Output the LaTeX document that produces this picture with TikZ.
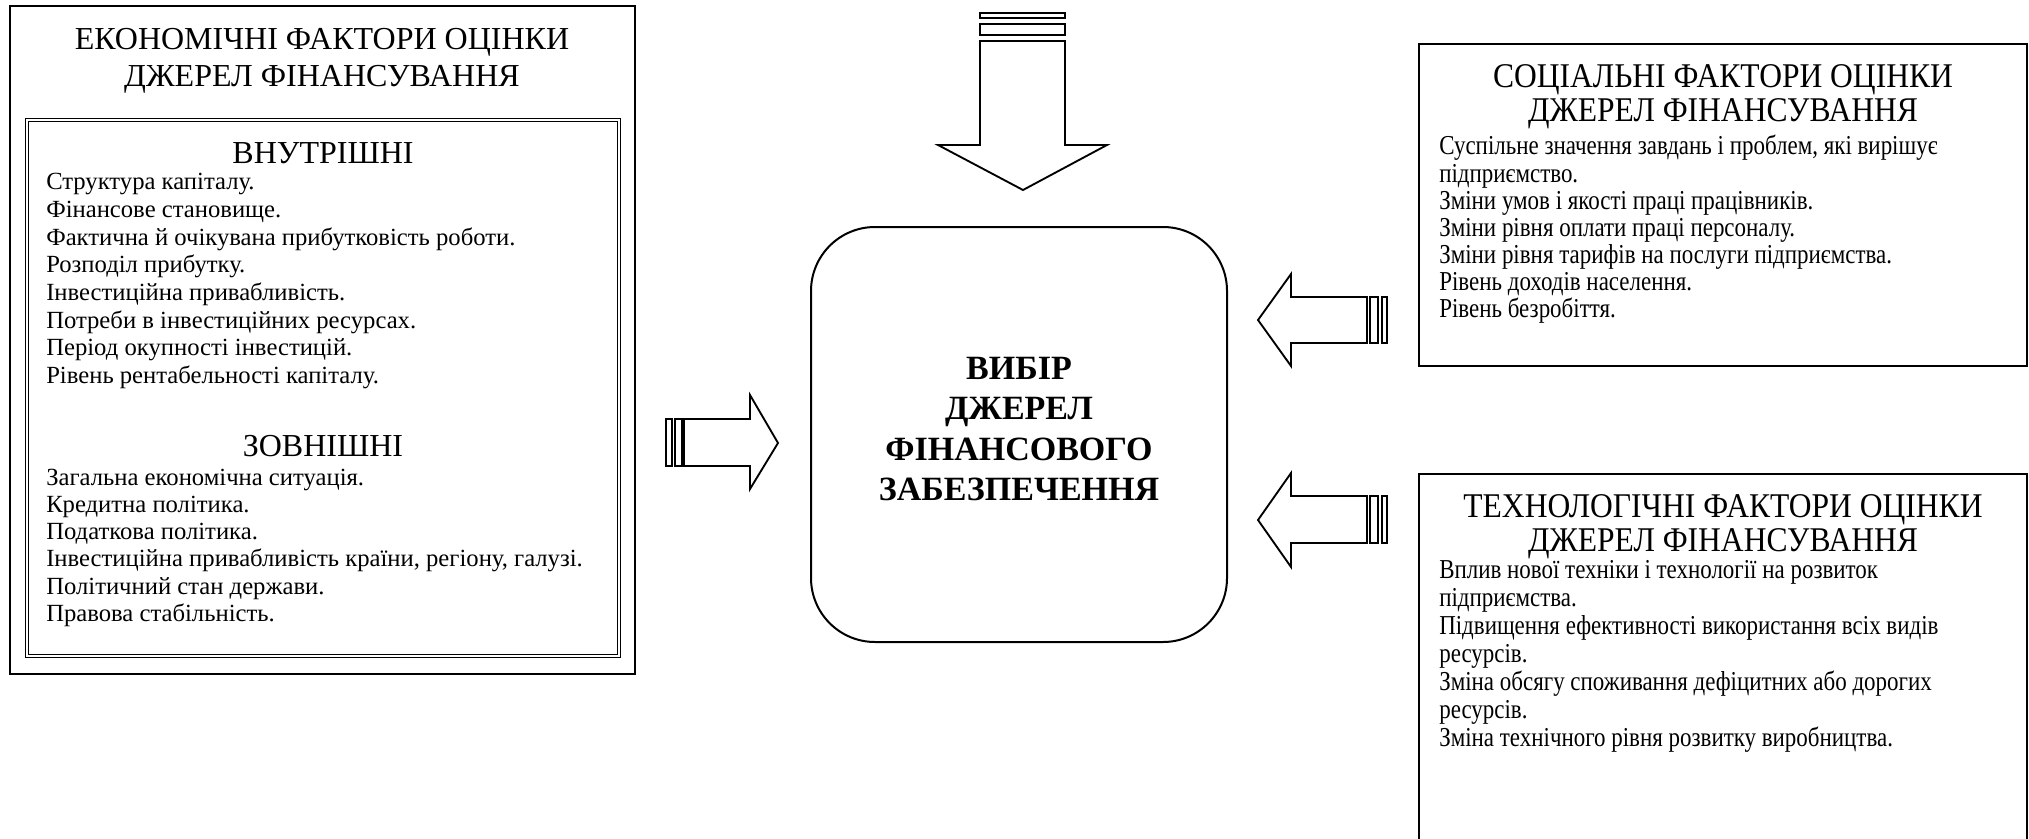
\documentclass[tikz,border=0pt]{standalone}
\usepackage{fontspec}
\setmainfont{Liberation Serif}
\newfontfamily\narrowhead{Liberation Serif}[FakeStretch=0.91]
\newfontfamily\narrowbody{Liberation Serif}[FakeStretch=0.84]
\usetikzlibrary{fit}

\tikzset{
  frame/.style={draw, line width=1.5pt, inner sep=0pt},
  innerframe/.style={draw, double, line width=0.8pt, double distance=0.9pt, inner sep=0pt},
  hub/.style={draw, line width=1.5pt, inner sep=0pt, rounded corners=48pt},
  blockarrow/.style={draw, line width=1.4pt, fill=white, line join=miter},
  stripe/.style={draw, line width=1.2pt, fill=white},
  lhead/.style={anchor=base, inner sep=0pt, font=\fontsize{24}{28}\selectfont},
  lbody/.style={anchor=base west, inner sep=0pt, font=\fontsize{18.5}{21}\selectfont},
  rhead/.style={anchor=base, inner sep=0pt, font=\narrowhead\fontsize{26}{30}\selectfont},
  rbody/.style={anchor=base west, inner sep=0pt, font=\narrowbody\fontsize{20.5}{22}\selectfont},
  hubtext/.style={anchor=base, inner sep=0pt, font=\bfseries\fontsize{25.5}{30}\selectfont}
}

\begin{document}
\begin{tikzpicture}[x=0.75pt, y=-0.75pt]
\useasboundingbox (0,0) rectangle (2029,838);

% ---------- frames ----------
\node[frame, fit={(10,6) (635,674)}] (econ) {};
\node[innerframe, fit={(27,120) (619,656)}] (econin) {};
\node[hub, fit={(811,227) (1227,642)}] (hub) {};
\node[frame, fit={(1419,44) (2027,366)}] (social) {};
\node[frame, fit={(1419,474) (2027,860)}] (tech) {};

% ---------- economic factors ----------
\node[lhead] (econT1) at (322,50) {ЕКОНОМІЧНІ ФАКТОРИ ОЦІНКИ};
\node[lhead] (econT2) at (322,87) {ДЖЕРЕЛ ФІНАНСУВАННЯ};
\node[lhead] (inT) at (323,163) {ВНУТРІШНІ};
\foreach \t [count=\i from 0] in {
  Структура капіталу.,
  Фінансове становище.,
  Фактична й очікувана прибутковість роботи.,
  Розподіл прибутку.,
  Інвестиційна привабливість.,
  Потреби в інвестиційних ресурсах.,
  Період окупності інвестицій.,
  Рівень рентабельності капіталу.}
  \node[lbody] (in\i) at (46,190+27.6*\i) {\t};
\node[lhead] (exT) at (323,456) {ЗОВНІШНІ};
\foreach \t [count=\i from 0] in {
  Загальна економічна ситуація.,
  Кредитна політика.,
  Податкова політика.,
  {Інвестиційна привабливість країни, регіону, галузі.},
  Політичний стан держави.,
  Правова стабільність.}
  \node[lbody] (ex\i) at (46,485+27.3*\i) {\t};

% ---------- central node ----------
\foreach \t [count=\i from 0] in {ВИБІР, ДЖЕРЕЛ, ФІНАНСОВОГО, ЗАБЕЗПЕЧЕННЯ}
  \node[hubtext] (hub\i) at (1019,379+40.6*\i) {\t};

% ---------- social factors ----------
\node[rhead] (socT1) at (1723,88) {СОЦІАЛЬНІ ФАКТОРИ ОЦІНКИ};
\node[rhead] (socT2) at (1723,122) {ДЖЕРЕЛ ФІНАНСУВАННЯ};
\foreach \t [count=\i from 0] in {
  {Суспільне значення завдань і проблем, які вирішує},
  підприємство.,
  Зміни умов і якості праці працівників.,
  Зміни рівня оплати праці персоналу.,
  Зміни рівня тарифів на послуги підприємства.,
  Рівень доходів населення.,
  Рівень безробіття.}
  \node[rbody] (soc\i) at (1439,155+27.1*\i) {\t};

% ---------- technological factors ----------
\node[rhead] (tecT1) at (1723,517) {ТЕХНОЛОГІЧНІ ФАКТОРИ ОЦІНКИ};
\node[rhead] (tecT2) at (1723,551) {ДЖЕРЕЛ ФІНАНСУВАННЯ};
\foreach \t [count=\i from 0] in {
  Вплив нової техніки і технології на розвиток,
  підприємства.,
  Підвищення ефективності використання всіх видів,
  ресурсів.,
  Зміна обсягу споживання дефіцитних або дорогих,
  ресурсів.,
  Зміна технічного рівня розвитку виробництва.}
  \node[rbody] (tec\i) at (1439,578+28*\i) {\t};

% ---------- striped block arrows ----------
% from above
\draw[stripe] (980,13) rectangle (1065,18);
\draw[stripe] (980,24) rectangle (1065,35);
\draw[blockarrow] (980,41) -- (1065,41) -- (1065,145) -- (1107,145)
  -- (1023,190) -- (938,145) -- (980,145) -- cycle;
% from the left
\draw[stripe] (666,419) rectangle (672,466);
\draw[stripe] (675,419) rectangle (682,466);
\draw[blockarrow] (684,419) -- (750,419) -- (750,395) -- (778,443)
  -- (750,489) -- (750,466) -- (684,466) -- cycle;
% from the social factors
\draw[stripe] (1370,297) rectangle (1378,343);
\draw[stripe] (1382,297) rectangle (1387,343);
\draw[blockarrow] (1367,297) -- (1291,297) -- (1291,274) -- (1258,320)
  -- (1291,366) -- (1291,343) -- (1367,343) -- cycle;
% from the technological factors
\draw[stripe] (1370,496) rectangle (1378,543);
\draw[stripe] (1382,496) rectangle (1387,543);
\draw[blockarrow] (1367,496) -- (1291,496) -- (1291,473) -- (1258,520)
  -- (1291,567) -- (1291,543) -- (1367,543) -- cycle;
\end{tikzpicture}
\end{document}
